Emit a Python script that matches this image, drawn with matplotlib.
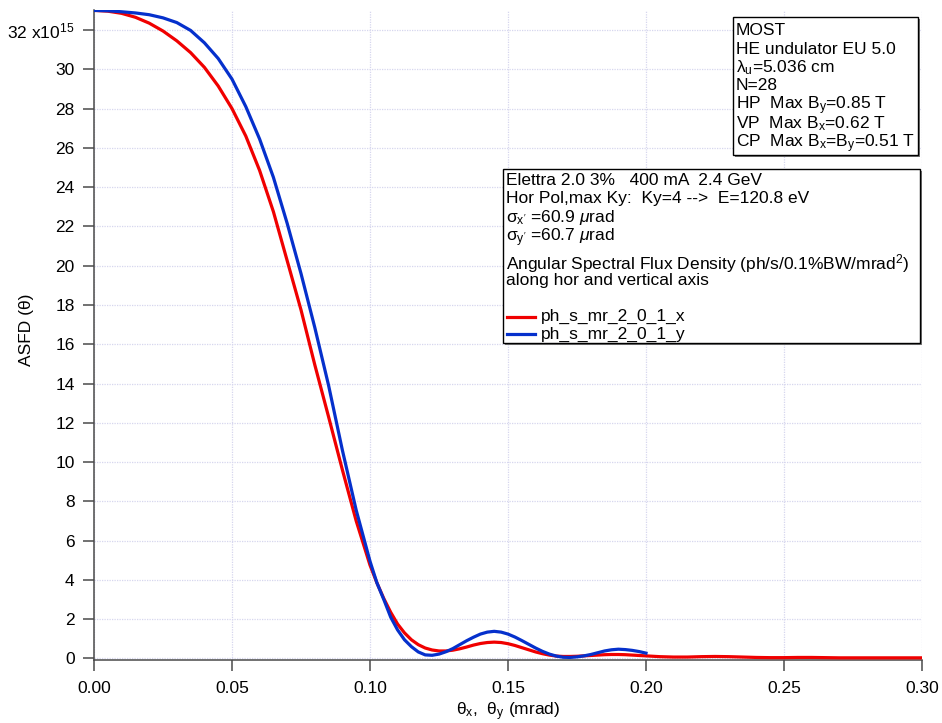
import matplotlib
matplotlib.use("Agg")
import matplotlib.pyplot as plt
from matplotlib.patches import Rectangle
from matplotlib.lines import Line2D

plt.rcParams["font.family"] = ["Liberation Sans", "DejaVu Sans"]
plt.rcParams["mathtext.fontset"] = "custom"
plt.rcParams["mathtext.rm"] = "Liberation Sans"
plt.rcParams["mathtext.it"] = "Liberation Sans:italic"
plt.rcParams["mathtext.bf"] = "Liberation Sans:bold"

W, H = 942, 723
FS = 12.5

# angle (mrad) and ASFD (units of 1e15) along the horizontal axis
theta_x = [0.000, 0.005, 0.010, 0.015, 0.020, 0.025, 0.030, 0.035, 0.040, 0.045,
           0.050, 0.055, 0.060, 0.065, 0.070, 0.075, 0.080, 0.085, 0.090, 0.095,
           0.100, 0.1025, 0.105, 0.1075, 0.110, 0.1125, 0.115, 0.1175, 0.120, 0.1225,
           0.125, 0.1275, 0.130, 0.1325, 0.135, 0.1375, 0.140, 0.1425, 0.145, 0.1475,
           0.150, 0.1525, 0.155, 0.1575, 0.160, 0.1625, 0.165, 0.1675, 0.170, 0.1725,
           0.175, 0.1775, 0.180, 0.1825, 0.185, 0.1875, 0.190, 0.1925, 0.195, 0.1975,
           0.200, 0.205, 0.210, 0.215, 0.220, 0.225, 0.230, 0.235, 0.240, 0.245,
           0.250, 0.255, 0.260, 0.265, 0.270, 0.275, 0.280, 0.285, 0.290, 0.295,
           0.300]
asfd_x = [33.0, 32.96, 32.85, 32.65, 32.35, 31.95, 31.45, 30.85, 30.1, 29.15,
          28.0, 26.6, 24.85, 22.75, 20.25, 17.75, 14.95, 12.3, 9.6, 7.0,
          4.75, 3.85, 3.05, 2.35, 1.75, 1.3, 0.95, 0.7, 0.53, 0.43,
          0.38, 0.38, 0.42, 0.49, 0.58, 0.68, 0.76, 0.81, 0.83, 0.81,
          0.75, 0.66, 0.55, 0.44, 0.33, 0.24, 0.17, 0.12, 0.10, 0.10,
          0.11, 0.13, 0.15, 0.17, 0.19, 0.20, 0.20, 0.19, 0.17, 0.15,
          0.13, 0.09, 0.07, 0.07, 0.09, 0.10, 0.09, 0.07, 0.05, 0.04,
          0.04, 0.05, 0.05, 0.04, 0.03, 0.03, 0.03, 0.03, 0.03, 0.03,
          0.03]

# along the vertical axis
theta_y = [0.000, 0.005, 0.010, 0.015, 0.020, 0.025, 0.030, 0.035, 0.040, 0.045,
           0.050, 0.055, 0.060, 0.065, 0.070, 0.075, 0.080, 0.085, 0.090, 0.095,
           0.100, 0.1025, 0.105, 0.1075, 0.110, 0.1125, 0.115, 0.1175, 0.120, 0.1225,
           0.125, 0.1275, 0.130, 0.1325, 0.135, 0.1375, 0.140, 0.1425, 0.145, 0.1475,
           0.150, 0.1525, 0.155, 0.1575, 0.160, 0.1625, 0.165, 0.1675, 0.170, 0.1725,
           0.175, 0.1775, 0.180, 0.1825, 0.185, 0.1875, 0.190, 0.1925, 0.195, 0.1975,
           0.200]
asfd_y = [33.0, 32.98, 32.93, 32.87, 32.78, 32.62, 32.38, 31.98, 31.35, 30.55,
          29.5, 28.1, 26.45, 24.5, 22.15, 19.6, 16.85, 13.9, 10.6, 7.55,
          4.95, 3.85, 3.0, 2.1, 1.45, 0.95, 0.6, 0.33, 0.18, 0.16,
          0.22, 0.34, 0.5, 0.7, 0.9, 1.08, 1.24, 1.34, 1.38, 1.34,
          1.24, 1.09, 0.91, 0.72, 0.53, 0.36, 0.22, 0.12, 0.06, 0.05,
          0.08, 0.13, 0.2, 0.29, 0.38, 0.44, 0.47, 0.45, 0.41, 0.35,
          0.27]

x_ticks = [0.00, 0.05, 0.10, 0.15, 0.20, 0.25, 0.30]
y_ticks = list(range(0, 33, 2))
y_labels = [str(v) for v in y_ticks[:-1]] + ["32 x10$^{15}$"]

red = "#f00000"
blue = "#0530cc"
axis_col = "#4a4a4a"

fig = plt.figure(figsize=(W / 100, H / 100), dpi=100)
ax = fig.add_axes([94 / W, 1 - 660 / H, 828 / W, 650 / H])

ax.plot(theta_x, asfd_x, color=red, lw=2.3, solid_joinstyle="round", zorder=3)
ax.plot(theta_y, asfd_y, color=blue, lw=2.3, solid_joinstyle="round", zorder=4)

ax.set_xlim(0, 0.30)
ax.set_ylim(-0.08, 33.02)
ax.set_xticks(x_ticks)
ax.set_xticklabels([f"{v:.2f}" for v in x_ticks])
ax.set_yticks(y_ticks)
ax.set_yticklabels(y_labels)

for s in ["top", "right"]:
    ax.spines[s].set_visible(False)
for s in ["left", "bottom"]:
    ax.spines[s].set_color(axis_col)
    ax.spines[s].set_linewidth(1.1)

ax.tick_params(axis="both", colors=axis_col, labelcolor="black", labelsize=FS,
               length=8, width=1.1, direction="out")
ax.tick_params(axis="y", pad=6)
ax.tick_params(axis="x", pad=7)
ax.grid(True, color="#d6d6ee", linestyle=(0, (1, 1)), linewidth=0.9, zorder=0)

ax.set_xlabel(r"θ$_\mathrm{x}$,  θ$_\mathrm{y}$ (mrad)", fontsize=FS, labelpad=3)


def fx(x):
    return x / W


def fy(y):
    return 1 - y / H


fig.text(fx(26), fy(330), "ASFD (θ)", rotation=90, fontsize=FS, ha="center", va="center")


def box(x0, y0, x1, y1):
    shadow = Rectangle((fx(x0 + 2), fy(y1 + 2)), fx(x1 - x0), (y1 - y0) / H,
                       transform=fig.transFigure, facecolor="#777777",
                       edgecolor="none", zorder=5)
    rect = Rectangle((fx(x0), fy(y1)), fx(x1 - x0), (y1 - y0) / H,
                     transform=fig.transFigure, facecolor="white",
                     edgecolor="black", linewidth=1.0, zorder=6)
    fig.add_artist(shadow)
    fig.add_artist(rect)


box(733, 17, 918, 155)
lines1 = ["MOST",
          "HE undulator EU 5.0",
          r"λ$_\mathrm{u}$=5.036 cm",
          "N=28",
          r"HP  Max B$_\mathrm{y}$=0.85 T",
          r"VP  Max B$_\mathrm{x}$=0.62 T",
          r"CP  Max B$_\mathrm{x}$=B$_\mathrm{y}$=0.51 T"]
base1 = [35, 53.5, 72, 90.5, 109, 128, 147]
for s, b in zip(lines1, base1):
    fig.text(fx(736), fy(b), s, fontsize=FS, va="baseline", ha="left", zorder=7)

box(503, 169, 920, 343)
lines2 = ["Elettra 2.0 3%   400 mA  2.4 GeV",
          "Hor Pol,max Ky:  Ky=4 -->  E=120.8 eV",
          r"σ$_\mathrm{x'}$ =60.9 $\mathit{\mu}$rad",
          r"σ$_\mathrm{y'}$ =60.7 $\mathit{\mu}$rad",
          r"Angular Spectral Flux Density (ph/s/0.1%BW/mrad$^2$)",
          "along hor and vertical axis"]
base2 = [185, 203.5, 222, 241, 269, 285]
for s, b in zip(lines2, base2):
    fig.text(fx(506), fy(b), s, fontsize=FS, va="baseline", ha="left", zorder=7)

legend_items = [("ph_s_mr_2_0_1_x", red, 316.7), ("ph_s_mr_2_0_1_y", blue, 334)]
for name, col, yy in legend_items:
    fig.add_artist(Line2D([fx(507), fx(535)], [fy(yy), fy(yy)], color=col, lw=2.3,
                          transform=fig.transFigure, zorder=7))
    fig.text(fx(541), fy(yy + 4.5), name, fontsize=FS, va="baseline", ha="left", zorder=7)

fig.savefig("out.png", dpi=100)
